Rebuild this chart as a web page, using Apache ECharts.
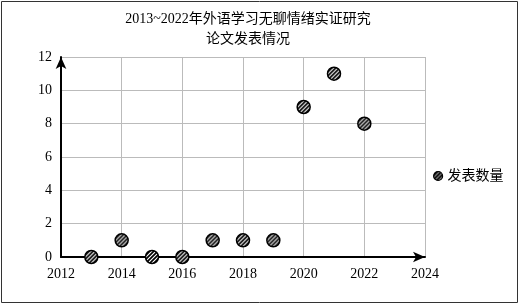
<!DOCTYPE html>
<html><head><meta charset="utf-8">
<script src="https://cdn.jsdelivr.net/npm/echarts@6/dist/echarts.min.js"></script>
<style>html,body{margin:0;padding:0;background:#fff}#c{width:519px;height:304px}</style>
</head><body><div id="c"></div>
<script>
const years = [2013, 2014, 2015, 2016, 2017, 2018, 2019, 2020, 2021, 2022];
const counts = [0, 1, 0, 0, 1, 1, 1, 9, 11, 8];
const seriesName = '发表数量';
const titleText = '2013~2022年外语学习无聊情绪实证研究\n论文发表情况';

function makePattern(lw){
  const pc = document.createElement('canvas');
  pc.width = 4; pc.height = 4;
  const g = pc.getContext('2d');
  g.fillStyle = '#fff'; g.fillRect(0,0,4,4);
  g.strokeStyle = '#000'; g.lineWidth = lw;
  g.beginPath();
  g.moveTo(-1,1); g.lineTo(1,-1);
  g.moveTo(-1,5); g.lineTo(5,-1);
  g.moveTo(3,5); g.lineTo(5,3);
  g.stroke();
  return pc;
}
const pc = makePattern(1.7);
const pcLegend = makePattern(2.2);
const symSize = 13;

const font = '"Liberation Serif","Noto Sans CJK SC",serif';
const chart = echarts.init(document.getElementById('c'), null, {renderer:'canvas'});
chart.setOption({
  animation:false,
  textStyle:{fontFamily:font},
  title:{text:titleText,left:243,top:4,textAlign:'center',
    textStyle:{fontFamily:font,fontSize:14,fontWeight:'normal',color:'#000',lineHeight:20}},
  legend:{data:[{name:seriesName,itemStyle:{color:{image:pcLegend,repeat:'repeat'},borderColor:'#000',borderWidth:1.2}}],
    left:428,top:164,itemWidth:9,itemHeight:9,itemGap:4,
    textStyle:{fontFamily:font,fontSize:14,color:'#000'}},
  grid:{left:61,right:94,top:57,bottom:47},
  graphic:[{type:'rect',shape:{x:1.5,y:1.5,width:516,height:301},style:{fill:null,stroke:'#333',lineWidth:1},silent:true}],
  xAxis:{type:'value',min:2012,max:2024,interval:2,
    axisLine:{lineStyle:{color:'#000',width:2},symbol:['none','arrow'],symbolSize:[8,12]},
    axisTick:{show:false},
    axisLabel:{color:'#000',fontSize:14,fontFamily:font,margin:10,formatter:v=>String(v)},
    splitLine:{show:true,lineStyle:{color:'#bbb',width:1}}},
  yAxis:{type:'value',min:0,max:12,interval:2,
    axisLine:{show:true,lineStyle:{color:'#000',width:2},symbol:['none','arrow'],symbolSize:[8,12]},
    axisTick:{show:false},
    axisLabel:{color:'#000',fontSize:14,fontFamily:font,margin:9},
    splitLine:{show:true,lineStyle:{color:'#bbb',width:1}}},
  series:[{name:seriesName,type:'scatter',symbol:'circle',symbolSize:symSize,
    data:years.map((y,i)=>[y,counts[i]]),
    itemStyle:{color:{image:pc,repeat:'repeat',scaleX:2/symSize,scaleY:2/symSize},borderColor:'#000',borderWidth:1.5,opacity:1}}]
});
</script></body></html>
